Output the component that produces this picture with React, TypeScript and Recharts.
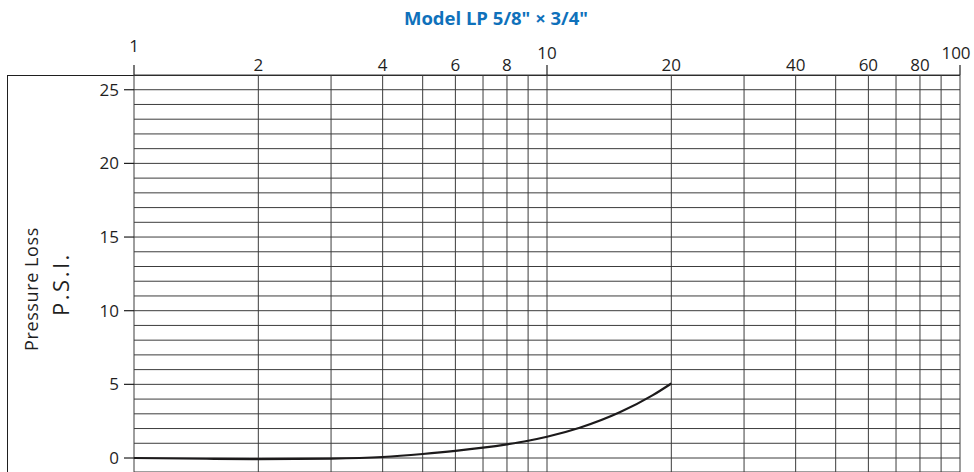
import { LineChart, Line, XAxis, YAxis, CartesianGrid } from "recharts";

// flow (GPM) on a log scale, pressure loss in PSI
const flow = [1, 1.5, 2, 3, 4, 5, 6, 7, 8, 9, 10, 12, 15, 18, 20];
const psi = [0, -0.05, -0.08, -0.04, 0.07, 0.27, 0.48, 0.7, 0.93, 1.17, 1.44, 2.05, 3.1, 4.25, 5.06];

const xGridTicks = [1, 2, 3, 4, 5, 6, 7, 8, 9, 10, 20, 30, 40, 50, 60, 70, 80, 90, 100];
const xLabelTicks = [1, 2, 4, 6, 8, 10, 20, 40, 60, 80, 100];
const yGridTicks = Array.from({ length: 27 }, (_, i) => i);
const yLabelTicks = [0, 5, 10, 15, 20, 25];

const title = 'Model LP 5/8" \u00d7 3/4"';

const data = flow.map((f, i) => ({ flow: f, psi: psi[i] }));

const FONT = "'Open Sans', sans-serif";
const INK = "#1f1f1f";
const GRID = "#3c3c3c";

function TopTick({ x, y, payload }: any) {
  const v = payload.value;
  if (!xLabelTicks.includes(v)) return null;
  const major = v === 1 || v === 10 || v === 100;
  let ty = y - 4;
  if (v === 10 || v === 100) ty = y - 16;
  if (v === 1) ty = y - 23;
  return (
    <g>
      {major && <line x1={x} x2={x} y1={y - 10} y2={y} stroke={INK} strokeWidth={1.2} />}
      <text
        x={v === 100 ? x - 4 : x}
        y={ty}
        textAnchor="middle"
        fontFamily={FONT}
        fontSize={17}
        fill={INK}
      >
        {v}
      </text>
    </g>
  );
}

function LeftTick({ x, y, payload }: any) {
  const v = payload.value;
  if (!yLabelTicks.includes(v)) return null;
  return (
    <g>
      <line x1={x - 10} x2={x} y1={y} y2={y} stroke={INK} strokeWidth={1.2} />
      <text
        x={x - 15}
        y={y}
        dy="0.35em"
        textAnchor="end"
        fontFamily={FONT}
        fontSize={17}
        fill={INK}
      >
        {v}
      </text>
    </g>
  );
}

export default function App() {
  return (
    <div
      style={{
        position: "absolute",
        left: 0,
        top: 0,
        width: 974,
        height: 472,
        background: "#fff",
        overflow: "hidden",
      }}
    >
      {/* frame: left and top border */}
      <div
        style={{
          position: "absolute",
          left: 7,
          top: 75,
          width: 953,
          height: 400,
          borderLeft: `1.5px solid ${INK}`,
          borderTop: `1.5px solid ${INK}`,
          boxSizing: "border-box",
        }}
      />
      <div style={{ position: "absolute", left: 0, top: 0 }}>
        <LineChart
          width={974}
          height={472}
          data={data}
          margin={{ top: 15, right: 14, bottom: 0, left: 0 }}
        >
          <CartesianGrid stroke={GRID} strokeWidth={1} />
          <XAxis
            dataKey="flow"
            type="number"
            scale="log"
            domain={[1, 100]}
            ticks={xGridTicks}
            interval={0}
            orientation="top"
            height={60}
            axisLine={false}
            tickLine={false}
            tickSize={0}
            tickMargin={0}
            tick={<TopTick />}
            allowDataOverflow
          />
          <YAxis
            type="number"
            domain={[-0.95, 26]}
            ticks={yGridTicks}
            interval={0}
            width={134}
            axisLine={false}
            tickLine={false}
            tickSize={0}
            tickMargin={0}
            tick={<LeftTick />}
            allowDataOverflow
          />
          <Line
            dataKey="psi"
            type="monotone"
            stroke="#1c1a1b"
            strokeWidth={2.2}
            dot={false}
            isAnimationActive={false}
          />
        </LineChart>
      </div>
      <svg
        width={974}
        height={472}
        style={{ position: "absolute", left: 0, top: 0, pointerEvents: "none" }}
      >
        <text
          x={496}
          y={25}
          textAnchor="middle"
          fontFamily={FONT}
          fontWeight={700}
          fontSize={18.5}
          fill="#0f71bb"
        >
          {title}
        </text>
        <text
          transform="translate(38, 289) rotate(-90)"
          textAnchor="middle"
          fontFamily={FONT}
          fontSize={18}
          letterSpacing={0.6}
          fill={INK}
        >
          Pressure Loss
        </text>
        <text
          transform="translate(69, 284) rotate(-90)"
          textAnchor="middle"
          fontFamily={FONT}
          fontSize={22}
          letterSpacing={2.5}
          fill={INK}
        >
          P.S.I.
        </text>
      </svg>
    </div>
  );
}
